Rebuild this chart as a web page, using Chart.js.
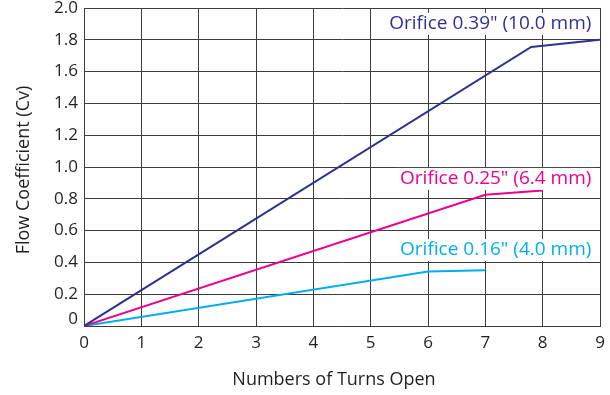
<!DOCTYPE html>
<html>
<head>
<meta charset="utf-8">
<script src="https://cdn.jsdelivr.net/npm/chart.js@4"></script>
<style>
  html, body { margin: 0; padding: 0; background: #fff; }
  canvas { display: block; }
</style>
</head>
<body>
<canvas id="cvChart" width="610" height="395"></canvas>
<script>
// Flow coefficient (Cv) versus number of turns open, per orifice size
const turnTicks = [0, 1, 2, 3, 4, 5, 6, 7, 8, 9];
const cvTickLabels = ['0', '0.2', '0.4', '0.6', '0.8', '1.0', '1.2', '1.4', '1.6', '1.8', '2.0'];
const seriesNames = ['Orifice 0.39" (10.0 mm)', 'Orifice 0.25" (6.4 mm)', 'Orifice 0.16" (4.0 mm)'];

const turnsLarge = [0, 7.8, 9];
const cvLarge = [0, 1.755, 1.80];
const turnsMid = [0, 7, 8];
const cvMid = [0, 0.825, 0.852];
const turnsSmall = [0, 6, 7];
const cvSmall = [0, 0.342, 0.35];

const FONT = '"Open Sans", "DejaVu Sans", sans-serif';
const TEXT = '#231f20';
const GRID = '#3c3c3c';
const COLORS = ['#2e3192', '#ec008c', '#00aeef'];

// where each series name sits (right edge, in axis units)
const nameAnchors = [
  { x: 8.85, y: 1.90 },
  { x: 8.85, y: 0.925 },
  { x: 8.85, y: 0.478 }
];

function toPoints(xs, ys) {
  return xs.map((x, i) => ({ x: x, y: ys[i] }));
}

const seriesData = [
  toPoints(turnsLarge, cvLarge),
  toPoints(turnsMid, cvMid),
  toPoints(turnsSmall, cvSmall)
];

const seriesNamePlugin = {
  id: 'seriesNames',
  afterDatasetsDraw(chart) {
    const { ctx, scales } = chart;
    ctx.save();
    ctx.font = '19px ' + FONT;
    ctx.textAlign = 'right';
    ctx.textBaseline = 'middle';
    seriesNames.forEach((name, i) => {
      const px = scales.x.getPixelForValue(nameAnchors[i].x);
      const py = scales.y.getPixelForValue(nameAnchors[i].y);
      const w = ctx.measureText(name).width;
      ctx.fillStyle = '#ffffff';
      ctx.fillRect(px - w - 4, py - 11, w + 7, 22);
      ctx.fillStyle = COLORS[i];
      ctx.fillText(name, px, py);
    });
    ctx.restore();
  }
};

const axisTitlePlugin = {
  id: 'axisTitles',
  afterDraw(chart) {
    const { ctx, chartArea } = chart;
    ctx.save();
    ctx.font = '18px ' + FONT;
    ctx.fillStyle = TEXT;
    ctx.textAlign = 'center';
    ctx.textBaseline = 'middle';
    ctx.fillText('Numbers of Turns Open', (chartArea.left + chartArea.right) / 2 - 8, chart.height - 15);
    ctx.translate(24, (chartArea.top + chartArea.bottom) / 2 + 3);
    ctx.rotate(-Math.PI / 2);
    ctx.fillText('Flow Coefficient (Cv)', 0, 0);
    ctx.restore();
  }
};

new Chart(document.getElementById('cvChart'), {
  type: 'scatter',
  data: {
    datasets: seriesData.map((pts, i) => ({
      label: seriesNames[i],
      data: pts,
      showLine: true,
      borderColor: COLORS[i],
      backgroundColor: COLORS[i],
      borderWidth: 2,
      pointRadius: 0,
      pointHoverRadius: 0,
      tension: 0
    }))
  },
  options: {
    responsive: false,
    animation: false,
    devicePixelRatio: 1,
    layout: { padding: { top: 8, right: 10, bottom: 0, left: 0 } },
    plugins: {
      legend: { display: false },
      tooltip: { enabled: false }
    },
    scales: {
      x: {
        type: 'linear',
        min: turnTicks[0],
        max: turnTicks[turnTicks.length - 1],
        afterBuildTicks(scale) {
          scale.ticks = turnTicks.map(v => ({ value: v }));
        },
        afterFit(scale) {
          scale.height = 69;
          scale.paddingLeft = 0;
          scale.paddingRight = 0;
        },
        grid: { color: GRID, lineWidth: 1, drawTicks: false },
        border: { color: GRID, width: 1 },
        ticks: {
          padding: 7,
          color: TEXT,
          font: { family: FONT, size: 17 },
          maxRotation: 0,
          autoSkip: false,
          callback: (v) => String(v)
        }
      },
      y: {
        type: 'linear',
        min: 0,
        max: 2,
        afterBuildTicks(scale) {
          scale.ticks = cvTickLabels.map((t, i) => ({ value: i * 0.2 }));
        },
        afterFit(scale) {
          scale.width = 84;
          scale.paddingTop = 0;
          scale.paddingBottom = 0;
        },
        grid: { color: GRID, lineWidth: 1, drawTicks: false },
        border: { color: GRID, width: 1 },
        ticks: {
          padding: 6,
          color: TEXT,
          autoSkip: false,
          font: (ctx) => ({ family: FONT, size: 17, lineHeight: ctx.index === 0 ? 0.85 : 1.2 }),
          callback: (v, i) => (i === 0 ? [cvTickLabels[i], ''] : cvTickLabels[i])
        }
      }
    }
  },
  plugins: [seriesNamePlugin, axisTitlePlugin]
});
</script>
</body>
</html>
